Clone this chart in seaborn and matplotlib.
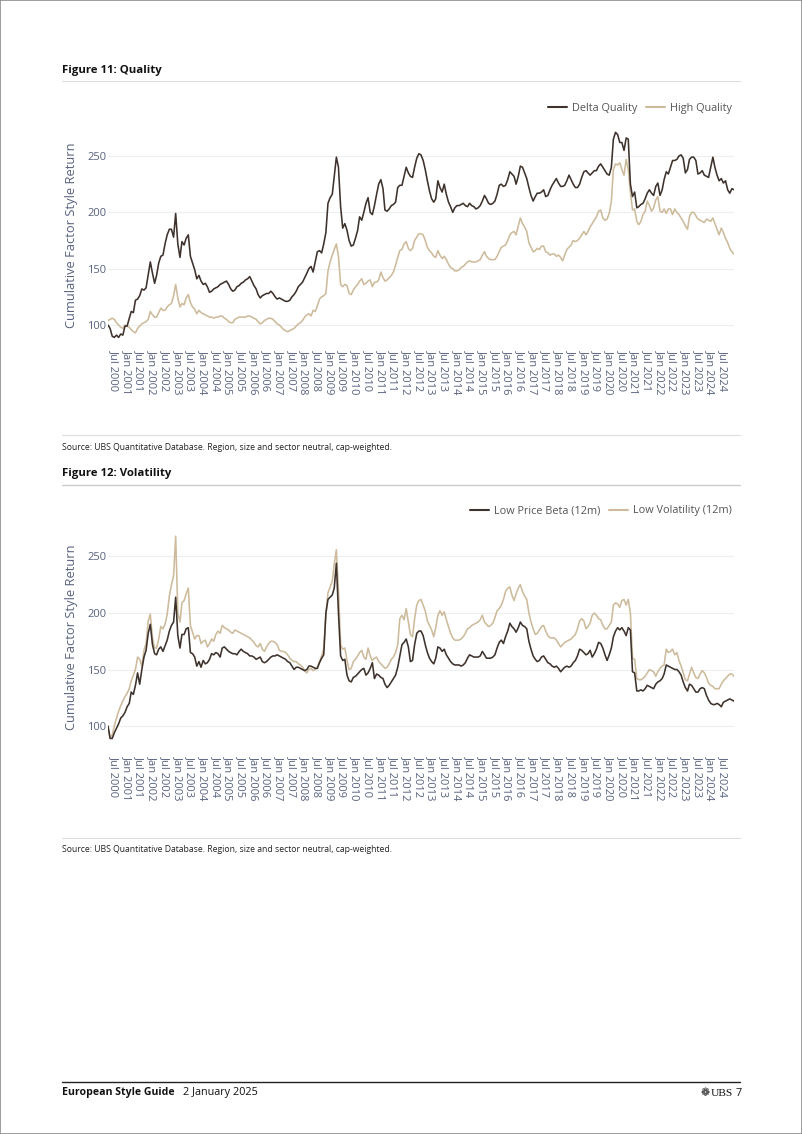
import numpy as np
import pandas as pd
import matplotlib
matplotlib.use("Agg")
import matplotlib.pyplot as plt
import seaborn as sns
from matplotlib.lines import Line2D
from matplotlib.patches import Rectangle

# ---------------- data ----------------
dates = pd.date_range("2000-04-01", "2024-12-01", freq="MS")
tick_dates = pd.date_range("2000-07-01", "2024-07-01", freq="6MS")
tick_labels = [d.strftime("%b %Y") for d in tick_dates]

delta_quality = [
    100, 97, 90, 89, 91, 89, 92, 91, 99, 99,
    106, 112, 111, 122, 123, 126, 132, 131, 133, 145,
    156, 146, 137, 144, 155, 161, 162, 172, 180, 185,
    185, 178, 199, 172, 160, 174, 171, 177, 180, 161,
    155, 149, 141, 144, 139, 136, 137, 134, 129, 130,
    132, 133, 134, 136, 137, 138, 139, 136, 132, 130,
    131, 134, 135, 137, 138, 140, 141, 143, 139, 135,
    132, 127, 124, 126, 127, 128, 128, 130, 128, 125,
    123, 124, 123, 122, 121, 121, 122, 125, 127, 130,
    134, 136, 138, 142, 146, 150, 152, 147, 156, 165,
    166, 164, 172, 182, 208, 213, 216, 232, 249, 240,
    205, 186, 190, 184, 175, 170, 171, 177, 184, 196,
    193, 200, 208, 213, 200, 198, 206, 216, 225, 229,
    221, 202, 201, 203, 206, 207, 209, 222, 224, 224,
    232, 240, 235, 232, 231, 240, 248, 252, 251, 246,
    238, 228, 219, 212, 209, 212, 228, 222, 218, 225,
    216, 209, 205, 200, 204, 206, 206, 207, 208, 206,
    205, 208, 206, 205, 203, 204, 206, 210, 215, 212,
    208, 207, 208, 210, 216, 224, 225, 223, 224, 229,
    236, 234, 232, 225, 232, 241, 240, 235, 230, 222,
    215, 210, 214, 217, 217, 218, 220, 214, 215, 220,
    224, 227, 230, 226, 223, 223, 224, 228, 233, 229,
    225, 222, 222, 225, 231, 236, 237, 235, 233, 235,
    237, 237, 241, 243, 240, 237, 234, 233, 240, 265,
    271, 269, 262, 262, 255, 266, 265, 225, 214, 218,
    204, 205, 207, 208, 212, 217, 220, 217, 215, 223,
    226, 215, 220, 229, 236, 234, 240, 246, 246, 247,
    250, 251, 248, 235, 238, 247, 249, 249, 246, 234,
    235, 237, 233, 232, 231, 240, 249, 240, 233, 228,
    230, 226, 228, 220, 217, 221, 220,
]

high_quality = [
    104, 105, 106, 105, 102, 100, 98, 97, 100, 99,
    98, 96, 94, 93, 97, 99, 101, 102, 103, 105,
    112, 109, 107, 107, 111, 115, 113, 113, 116, 118,
    119, 126, 136, 124, 116, 119, 118, 124, 127, 120,
    116, 114, 110, 113, 111, 110, 109, 108, 107, 107,
    106, 107, 107, 108, 108, 106, 105, 103, 102, 102,
    105, 106, 107, 107, 107, 107, 108, 108, 107, 106,
    105, 103, 101, 102, 104, 105, 106, 106, 105, 103,
    101, 100, 98, 96, 95, 94, 95, 96, 97, 99,
    101, 102, 104, 107, 109, 110, 108, 113, 112, 117,
    123, 125, 126, 128, 148, 156, 162, 167, 172, 161,
    136, 134, 136, 135, 128, 127, 131, 134, 136, 139,
    141, 136, 137, 139, 140, 134, 138, 138, 140, 147,
    142, 139, 140, 142, 144, 147, 153, 160, 166, 167,
    172, 174, 168, 166, 168, 175, 178, 181, 181, 180,
    175, 169, 166, 164, 161, 160, 166, 162, 159, 161,
    158, 154, 151, 150, 148, 148, 149, 151, 152, 154,
    156, 157, 156, 156, 156, 157, 158, 162, 165, 161,
    159, 158, 158, 158, 161, 165, 169, 170, 171, 175,
    180, 182, 183, 180, 188, 195, 190, 187, 183, 173,
    169, 165, 166, 168, 167, 170, 170, 165, 164, 162,
    163, 163, 161, 162, 160, 157, 162, 167, 169, 171,
    175, 174, 175, 177, 180, 183, 180, 183, 187, 190,
    193, 196, 201, 202, 195, 193, 194, 199, 210, 238,
    243, 242, 244, 238, 233, 247, 238, 218, 202, 203,
    192, 189, 192, 198, 201, 210, 206, 201, 204, 211,
    214, 201, 200, 203, 199, 203, 203, 198, 203, 200,
    198, 195, 192, 188, 185, 196, 200, 200, 197, 194,
    193, 192, 191, 194, 193, 192, 195, 190, 185, 180,
    186, 182, 177, 173, 168, 165, 163,
]

low_price_beta = [
    100, 89, 89, 94, 98, 102, 107, 109, 112, 117,
    120, 130, 128, 136, 147, 137, 150, 161, 167, 182,
    190, 172, 164, 163, 168, 170, 166, 171, 176, 184,
    189, 192, 214, 180, 169, 181, 181, 186, 187, 165,
    164, 161, 153, 157, 152, 158, 155, 156, 159, 164,
    163, 165, 164, 161, 169, 170, 168, 166, 165, 164,
    164, 163, 166, 168, 166, 165, 164, 162, 162, 161,
    159, 160, 161, 157, 156, 157, 159, 161, 162, 162,
    163, 162, 161, 160, 159, 157, 156, 153, 150, 152,
    152, 151, 150, 149, 150, 153, 153, 152, 151, 151,
    156, 160, 163, 200, 212, 214, 216, 222, 244, 200,
    162, 158, 159, 145, 140, 139, 143, 144, 146, 148,
    150, 151, 145, 147, 151, 156, 142, 146, 145, 143,
    142, 137, 134, 136, 139, 142, 145, 152, 162, 172,
    174, 177, 170, 157, 158, 172, 182, 184, 184, 180,
    172, 165, 160, 157, 155, 160, 170, 169, 166, 168,
    163, 160, 157, 155, 154, 154, 154, 153, 154, 156,
    160, 163, 162, 161, 161, 161, 162, 166, 163, 160,
    160, 160, 161, 163, 169, 174, 176, 173, 179, 184,
    191, 188, 186, 183, 187, 192, 189, 188, 186, 175,
    168, 162, 159, 157, 158, 161, 162, 159, 156, 155,
    153, 152, 153, 151, 148, 150, 152, 153, 152, 153,
    156, 158, 162, 168, 167, 165, 163, 164, 167, 161,
    164, 168, 174, 173, 169, 163, 158, 163, 169, 179,
    184, 187, 185, 187, 184, 180, 187, 185, 148, 147,
    131, 131, 132, 131, 133, 136, 135, 134, 133, 137,
    139, 140, 142, 146, 154, 153, 152, 151, 150, 150,
    148, 145, 139, 134, 131, 137, 136, 133, 130, 130,
    133, 134, 133, 127, 123, 120, 119, 119, 120, 119,
    117, 121, 122, 123, 124, 123, 122,
]

low_volatility = [
    99, 90, 92, 100, 107, 113, 118, 122, 126, 129,
    133, 140, 145, 150, 161, 159, 153, 167, 173, 193,
    199, 178, 169, 169, 177, 188, 186, 190, 199, 215,
    225, 233, 268, 200, 192, 209, 211, 217, 222, 189,
    183, 177, 180, 180, 173, 175, 176, 170, 173, 177,
    175, 181, 184, 182, 189, 187, 186, 185, 183, 182,
    185, 184, 183, 182, 181, 180, 179, 178, 176, 174,
    171, 170, 173, 168, 166, 170, 173, 175, 175, 174,
    172, 167, 166, 166, 165, 163, 160, 158, 157, 157,
    155, 154, 152, 149, 147, 150, 151, 149, 150, 152,
    157, 162, 168, 198, 218, 223, 228, 243, 256, 220,
    172, 168, 169, 158, 150, 151, 157, 159, 162, 165,
    167, 161, 159, 169, 162, 158, 160, 161, 157, 155,
    153, 151, 152, 155, 159, 161, 165, 172, 195, 198,
    194, 204, 192, 181, 179, 195, 207, 211, 212, 207,
    202, 193, 189, 185, 179, 187, 198, 202, 198, 201,
    194, 188, 182, 178, 176, 176, 176, 177, 179, 182,
    186, 187, 189, 190, 191, 192, 194, 198, 192, 190,
    188, 189, 191, 196, 202, 204, 207, 212, 219, 222,
    223, 216, 211, 217, 222, 225, 219, 215, 212, 200,
    192, 186, 181, 182, 185, 188, 189, 184, 180, 178,
    178, 178, 176, 173, 170, 172, 174, 175, 176, 177,
    179, 181, 186, 193, 195, 193, 186, 188, 191, 198,
    200, 198, 195, 194, 189, 186, 186, 189, 192, 207,
    209, 208, 205, 211, 212, 207, 212, 200, 160, 159,
    142, 141, 141, 142, 144, 147, 150, 149, 148, 144,
    148, 151, 153, 154, 168, 165, 166, 168, 163, 165,
    158, 153, 147, 141, 140, 146, 152, 147, 143, 142,
    146, 149, 147, 143, 138, 136, 135, 133, 133, 133,
    137, 140, 142, 144, 146, 146, 144,
]

y_ticks = [100, 150, 200, 250]

for s in (delta_quality, high_quality, low_price_beta, low_volatility):
    assert len(s) == len(dates), len(s)

# ---------------- style ----------------
sns.set_theme(style="white")
plt.rcParams["font.family"] = ["Open Sans", "DejaVu Sans"]

AXIS_COL = "#58627e"
GRID_COL = "#eeeeee"
DARK = "#3e322c"
LIGHT = "#cdbb9c"
W, H = 802, 1134


def fx(px):
    return px / W


def fy(py):
    return 1 - py / H


fig = plt.figure(figsize=(W / 100, H / 100), dpi=100)
fig.patch.set_facecolor("white")


def make_chart(top_px, bot_px, y100_px, y250_px, names, series, xpad):
    ax = fig.add_axes([fx(108), fy(bot_px), fx(734) - fx(108), fy(top_px) - fy(bot_px)])
    df = pd.concat(
        [pd.DataFrame({"date": dates, "value": v, "series": n}) for n, v in zip(names, series)],
        ignore_index=True,
    )
    sns.lineplot(data=df, x="date", y="value", hue="series", hue_order=names,
                 palette=[DARK, LIGHT], linewidth=1.15, ax=ax, legend=False)
    lines = ax.get_lines()
    lines[0].set_zorder(3)
    lines[1].set_zorder(2)
    ppu = (y100_px - y250_px) / 150.0
    ax.set_ylim(100 - (bot_px - y100_px) / ppu, 100 + (y100_px - top_px) / ppu)
    ax.set_xlim(dates[0], dates[-1])
    ax.set_yticks(y_ticks)
    ax.set_xticks(tick_dates)
    ax.set_xticklabels(tick_labels, rotation=-90, ha="center", va="top")
    ax.tick_params(axis="both", length=0, colors=AXIS_COL)
    ax.tick_params(axis="y", pad=1, labelsize=8.0)
    ax.tick_params(axis="x", pad=xpad, labelsize=8.0)
    ax.set_xlabel("")
    ax.set_ylabel("Cumulative Factor Style Return", color=AXIS_COL, fontsize=9.3, va="center")
    ax.yaxis.set_label_coords((72 - 108) / 626, 0.5)
    ax.grid(axis="y", color=GRID_COL, linewidth=0.8)
    ax.grid(axis="x", visible=False)
    for sp in ax.spines.values():
        sp.set_visible(False)
    ax.set_facecolor("white")
    return ax, lines


def add_legend(labels, py):
    fig.legend(handles=[Line2D([], [], color=DARK, lw=1.5), Line2D([], [], color=LIGHT, lw=1.5)],
               labels=labels, loc="center right",
               bbox_to_anchor=(fx(732), fy(py)), ncol=2, frameon=False, fontsize=7.8,
               handlelength=1.75, handletextpad=0.45, columnspacing=0.8, labelcolor="#555555",
               borderaxespad=0, borderpad=0)


# Chart 1
ax1, l1 = make_chart(128, 343, 325, 156, ["Delta Quality", "High Quality"],
                     [delta_quality, high_quality], xpad=5)
add_legend(["Delta Quality", "High Quality"], 108)

# Chart 2
ax2, l2 = make_chart(530, 745, 726, 556.5, ["Low Price Beta (12m)", "Low Volatility (12m)"],
                     [low_price_beta, low_volatility], xpad=8)
add_legend(["Low Price Beta (12m)", "Low Volatility (12m)"], 511)


# ---------------- page furniture ----------------
def hline(py, color="#dddddd", lw=0.8, x0=62, x1=740):
    fig.add_artist(Line2D([fx(x0), fx(x1)], [fy(py), fy(py)], color=color, lw=lw))


SOURCE = "Source: UBS Quantitative Database. Region, size and sector neutral, cap-weighted."

fig.text(fx(62), fy(71), "Figure 11: Quality", fontsize=8.2, fontweight="bold",
         color="#111111", va="center", ha="left")
hline(81)
hline(435)
fig.text(fx(62), fy(447), SOURCE, fontsize=6.2, color="#222222", va="center", ha="left")

fig.text(fx(62), fy(474), "Figure 12: Volatility", fontsize=8.2, fontweight="bold",
         color="#111111", va="center", ha="left")
hline(485, color="#cccccc", lw=1.0)
hline(838)
fig.text(fx(62), fy(849), SOURCE, fontsize=6.2, color="#222222", va="center", ha="left")

# footer
hline(1082, color="#222222", lw=1.0)
fig.text(fx(62), fy(1093), "European Style Guide", fontsize=7.6, fontweight="bold",
         color="#111111", va="center", ha="left")
fig.text(fx(183), fy(1093), "2 January 2025", fontsize=7.8, color="#111111", va="center", ha="left")
fig.text(fx(705), fy(1093), "\u2741", fontsize=7.8, color="#111111", va="center", ha="center",
         family=["DejaVu Sans"])
fig.text(fx(711), fy(1093), "UBS", fontsize=8.2, color="#111111", va="center", ha="left",
         family=["Liberation Serif", "DejaVu Serif"])
fig.text(fx(736), fy(1093), "7", fontsize=7.8, color="#111111", va="center", ha="left")

fig.add_artist(Rectangle((0, 0), 1, 1, transform=fig.transFigure, fill=False,
                         edgecolor="#8c8c8c", lw=1.2))

fig.savefig("out.png", dpi=100, facecolor="white")
